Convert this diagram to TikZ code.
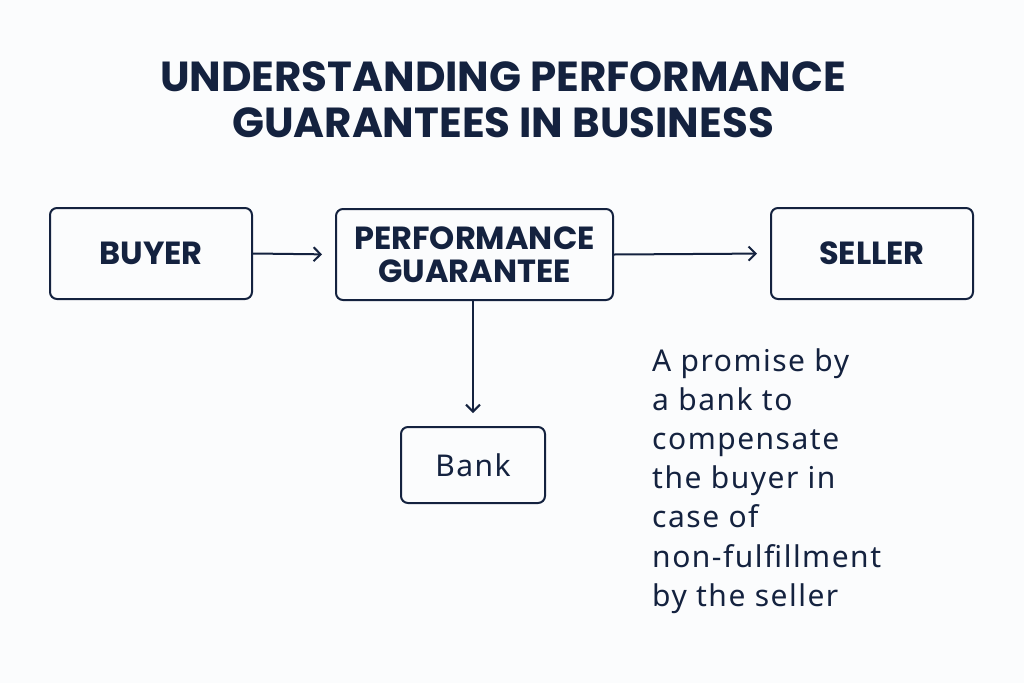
\documentclass[tikz,border=0pt]{standalone}
\usepackage{fontspec}
\setmainfont{Poppins}
\newfontfamily\bodyfont[LetterSpace=5]{Noto Sans}
\usetikzlibrary{arrows.meta}
\definecolor{navy}{HTML}{14223F}
\definecolor{bg}{HTML}{FBFCFD}
\tikzset{
  box/.style={draw=navy, line width=2pt, rounded corners=7pt, text=navy, align=center, inner sep=0pt},
  conn/.style={draw=navy, line width=2pt, -{Straight Barb[length=7pt,width=14pt,line width=2pt]}, shorten >=13pt},
}
\begin{document}
\begin{tikzpicture}[x=1pt,y=-1pt]
\fill[bg] (0,0) rectangle (1024,683);
\useasboundingbox (0,0) rectangle (1024,683);
\node[text=navy, align=center, font=\fontsize{42}{46}\selectfont\bfseries] (title) at (503,100) {UNDERSTANDING PERFORMANCE\\GUARANTEES IN BUSINESS};
\node[box, minimum width=202pt, minimum height=91pt, font=\fontsize{32}{32}\selectfont\bfseries] (buyer) at (151,253.5) {BUYER};
\node[box, minimum width=277pt, minimum height=91pt, font=\fontsize{32}{33}\selectfont\bfseries] (pg) at (474.5,254.5) {PERFORMANCE\\GUARANTEE};
\node[box, minimum width=202pt, minimum height=91pt, font=\fontsize{32}{32}\selectfont\bfseries] (seller) at (872,253.5) {SELLER};
\node[box, minimum width=144pt, minimum height=76pt, font=\bodyfont\fontsize{30}{32}\selectfont] (bank) at (473,465) {Bank};
\node[anchor=north west, text=navy, align=left, inner sep=0pt, font=\bodyfont\fontsize{30}{39.2}\selectfont] (desc) at (652,348) {A promise by\\a bank to\\compensate\\the buyer in\\case of\\non-fulfillment\\by the seller};
\draw[conn] (buyer.east) -- (pg.west);
\draw[conn] (pg.east) -- (seller.west);
\draw[conn] (pg.south -| bank.north) -- (bank.north);
\end{tikzpicture}
\end{document}
